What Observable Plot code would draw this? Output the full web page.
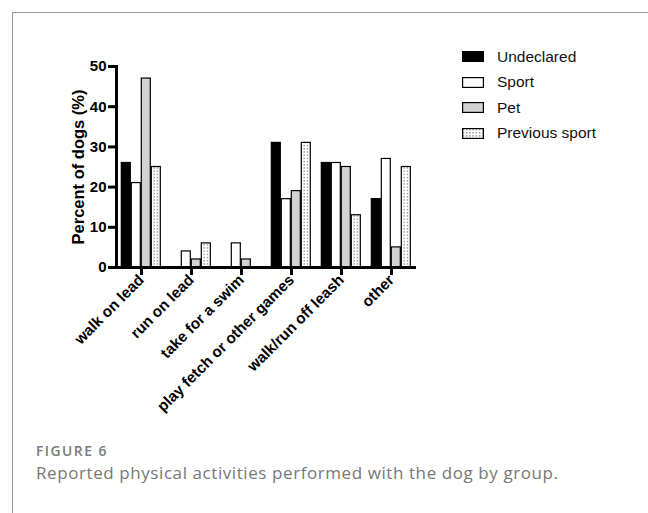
<!DOCTYPE html>
<html>
<head>
<meta charset="utf-8">
<script src="https://cdn.jsdelivr.net/npm/d3@7"></script>
<script src="https://cdn.jsdelivr.net/npm/@observablehq/plot@0.6"></script>
<style>
  html, body { margin: 0; padding: 0; background: #fff; }
  #wrap { position: relative; width: 648px; height: 513px; overflow: hidden; font-family: "Liberation Sans", Arial, sans-serif; }
  #border { position: absolute; left: 12px; top: 12px; right: -2px; bottom: -2px; border-top: 1.5px solid #9a9a9a; border-left: 1.5px solid #9a9a9a; }
  #chart { position: absolute; left: 0; top: 0; }
  #chart g[aria-label="y-axis tick label"] text { font-size: 15px; }
  #chart g[aria-label="y-axis label"] text { font-size: 16.5px; }
  #chart g[aria-label="fx-axis tick label"] text { font-size: 15.3px; }
  #legend { position: absolute; left: 462px; top: 44px; }
  .row { display: flex; align-items: center; height: 25.5px; }
  .row svg { display: block; margin-right: 13px; }
  .row span { font-size: 15.5px; color: #111; }
  #fig { position: absolute; left: 36px; top: 444px; font-family: "Open Sans", sans-serif; font-weight: 600; font-size: 13.8px; letter-spacing: 1.5px; color: #7a7a7a; line-height: 14px; }
  #cap { position: absolute; left: 36px; top: 464px; font-family: "Open Sans", sans-serif; font-weight: 400; font-size: 17px; letter-spacing: 0.58px; color: #777; line-height: 18px; white-space: nowrap; }
</style>
</head>
<body>
<div id="wrap">
  <div id="border"></div>
  <div id="chart"></div>
  <div id="legend"></div>
  <div id="fig">FIGURE 6</div>
  <div id="cap">Reported physical activities performed with the dog by group.</div>
</div>
<script>
const categories = ["walk on lead", "run on lead", "take for a swim", "play fetch or other games", "walk/run off leash", "other"];
const groups = ["Undeclared", "Sport", "Pet", "Previous sport"];
const undeclared = [26, 0, 0, 31, 26, 17];
const sport = [21, 4, 6, 17, 26, 27];
const pet = [47, 2, 2, 19, 25, 5];
const previousSport = [25, 6, 0, 31, 13, 25];
const yTicks = [0, 10, 20, 30, 40, 50];
const fills = ["#000000", "#ffffff", "#d2d2d2", "url(#dots)"];

const seriesValues = [undeclared, sport, pet, previousSport];
const data = [];
categories.forEach((c, i) => {
  groups.forEach((g, j) => data.push({activity: c, group: g, value: seriesValues[j][i]}));
});

const chart = Plot.plot({
  width: 648,
  height: 440,
  marginTop: 66,
  marginBottom: 173,
  marginLeft: 113.7,
  marginRight: 230.7,
  style: {fontFamily: "'Liberation Sans', Arial, sans-serif", color: "#000", background: "transparent"},
  fx: {domain: categories, padding: 0, label: null},
  x: {domain: groups, paddingInner: 0.15, paddingOuter: 0.53, axis: null},
  y: {domain: [0, 50]},
  color: {domain: groups, range: fills},
  marks: [
    Plot.barY(data, {fx: "activity", x: "group", y: "value", fill: "group", stroke: "#000", strokeWidth: 1.2}),
    Plot.ruleY([0], {strokeWidth: 3}),
    Plot.frame({anchor: "left", facetAnchor: "left", strokeWidth: 3}),
    Plot.axisY({ticks: yTicks, tickSize: 8, tickPadding: 2, strokeWidth: 3, fontSize: 15, fontWeight: "bold",
                label: "Percent of dogs (%)", labelAnchor: "center", labelArrow: "none", labelOffset: 44}),
    Plot.axisFx({anchor: "bottom", tickRotate: -45, tickSize: 8, tickPadding: 2, strokeWidth: 3, fontSize: 15.3, fontWeight: "bold", label: null})
  ]
});

// dotted pattern definition
const svgSel = d3.select(chart);
const defs = svgSel.insert("defs", ":first-child");
const pat = defs.append("pattern").attr("id", "dots").attr("patternUnits", "userSpaceOnUse").attr("width", 3.2).attr("height", 3.2);
pat.append("rect").attr("width", 3.2).attr("height", 3.2).attr("fill", "#fff");
pat.append("rect").attr("x", 1).attr("y", 1).attr("width", 1.1).attr("height", 1.1).attr("fill", "#444");
document.getElementById("chart").appendChild(chart);

// legend
const legend = d3.select("#legend");
groups.forEach((g, j) => {
  const row = legend.append("div").attr("class", "row");
  const s = row.append("svg").attr("width", 22).attr("height", 11);
  if (j === 3) {
    const p = s.append("defs").append("pattern").attr("id", "dotsL").attr("patternUnits", "userSpaceOnUse").attr("width", 3.2).attr("height", 3.2);
    p.append("rect").attr("width", 3.2).attr("height", 3.2).attr("fill", "#fff");
    p.append("rect").attr("x", 1).attr("y", 1).attr("width", 1.1).attr("height", 1.1).attr("fill", "#444");
  }
  s.append("rect").attr("x", 0.6).attr("y", 0.6).attr("width", 20.8).attr("height", 9.8)
    .attr("fill", j === 3 ? "url(#dotsL)" : fills[j]).attr("stroke", "#000").attr("stroke-width", 1.2);
  row.append("span").text(g);
});
</script>
</body>
</html>
